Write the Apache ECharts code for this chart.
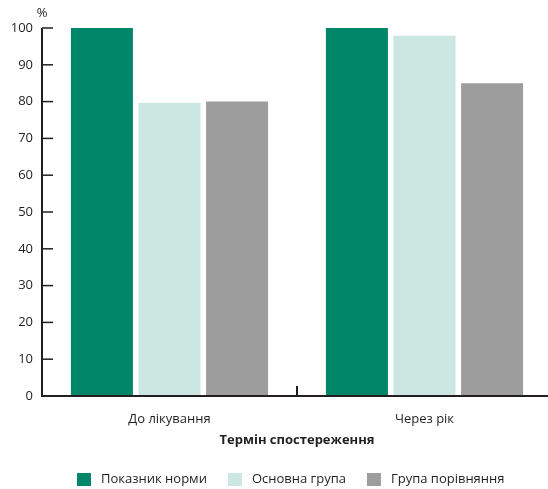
<!DOCTYPE html>
<html>
<head>
<meta charset="utf-8">
<script src="https://cdn.jsdelivr.net/npm/echarts@6/dist/echarts.min.js"></script>
<style>
  html, body { margin: 0; padding: 0; background: #fff; }
  #chart { width: 548px; height: 489px; }
</style>
</head>
<body>
<div id="chart"></div>
<script>
// Observation periods
const categories = ['До лікування', 'Через рік'];
// Series names and values, %
const seriesNames = ['Показник норми', 'Основна група', 'Група порівняння'];
const normValues = [100, 100];
const mainGroupValues = [79.6, 97.9];
const compareGroupValues = [80, 85];
// Value axis ticks, %
const yTicks = [0, 10, 20, 30, 40, 50, 60, 70, 80, 90, 100];
const colors = ['#00876a', '#cce6e1', '#9c9d9c'];

const font = '"Open Sans", sans-serif';
const ink = '#231f20';
const chart = echarts.init(document.getElementById('chart'));

const seriesValues = [normValues, mainGroupValues, compareGroupValues];

chart.setOption({
  animation: false,
  grid: { left: 42, width: 510, top: 28, bottom: 93, outerBoundsMode: 'none' },
  legend: {
    top: 473,
    left: 77,
    padding: 0,
    itemWidth: 14,
    itemHeight: 13,
    itemGap: 21,
    icon: 'rect',
    textStyle: { fontFamily: font, fontSize: 13, color: ink, padding: [0, 0, 0, 5] },
    data: seriesNames
  },
  xAxis: {
    type: 'category',
    data: categories,
    name: 'Термін спостереження',
    nameLocation: 'middle',
    nameGap: 38,
    nameTextStyle: { fontFamily: font, fontSize: 13, fontWeight: 'bold', color: ink },
    axisLine: { show: false },
    axisTick: { show: false },
    axisLabel: { margin: 17, fontFamily: font, fontSize: 13, color: ink }
  },
  yAxis: {
    type: 'value',
    min: yTicks[0],
    max: yTicks[yTicks.length - 1],
    interval: 10,
    name: '%',
    nameGap: 8,
    nameTextStyle: { fontFamily: font, fontSize: 13, color: ink },
    splitLine: { show: false },
    axisLine: { show: false },
    axisTick: { show: false },
    axisLabel: { margin: 9, fontFamily: font, fontSize: 13, color: ink }
  },
  series: seriesNames.map((name, i) => ({
    name: name,
    type: 'bar',
    data: seriesValues[i],
    barWidth: 62,
    barGap: '9%',
    itemStyle: { color: colors[i] }
  }))
});

// Axis lines and inward ticks, placed through the chart's own scales
const c0 = chart.convertToPixel({ xAxisIndex: 0 }, categories[0]);
const c1 = chart.convertToPixel({ xAxisIndex: 0 }, categories[1]);
const band = c1 - c0;
const xLeft = c0 - band / 2;
const xRight = c1 + band / 2;
const xMid = (c0 + c1) / 2;
const yZero = chart.convertToPixel({ yAxisIndex: 0 }, yTicks[0]);
const yTop = chart.convertToPixel({ yAxisIndex: 0 }, yTicks[yTicks.length - 1]);

const axisShapes = [
  { type: 'line', shape: { x1: xLeft, y1: yTop, x2: xLeft, y2: yZero + 1 }, style: { stroke: ink, lineWidth: 2 } },
  { type: 'line', shape: { x1: xLeft - 1, y1: yZero, x2: xRight, y2: yZero }, style: { stroke: ink, lineWidth: 2 } },
  { type: 'line', shape: { x1: xMid, y1: yZero, x2: xMid, y2: yZero - 10 }, style: { stroke: ink, lineWidth: 2 } }
].concat(yTicks.map(v => {
  const y = chart.convertToPixel({ yAxisIndex: 0 }, v);
  return { type: 'line', shape: { x1: xLeft, y1: y, x2: xLeft + 11, y2: y }, style: { stroke: ink, lineWidth: 1.5 } };
}));

chart.setOption({ graphic: axisShapes.map(s => Object.assign({ z: 10, silent: true }, s)) });
</script>
</body>
</html>
